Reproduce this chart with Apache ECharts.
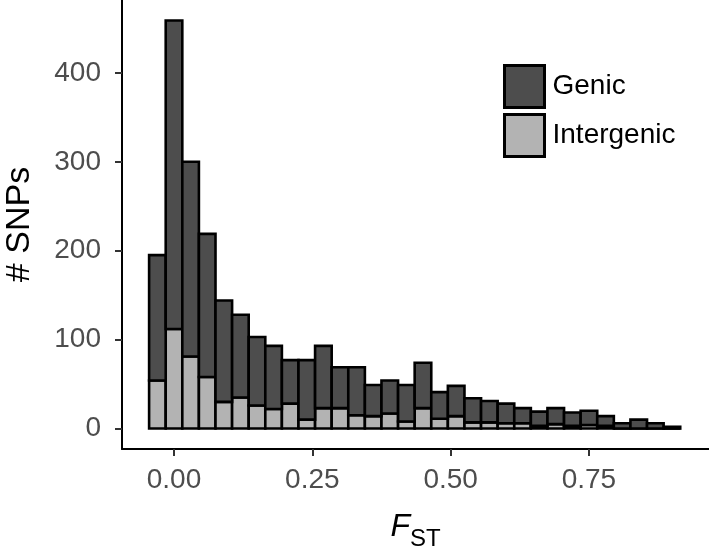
<!DOCTYPE html>
<html>
<head>
<meta charset="utf-8">
<script src="https://cdn.jsdelivr.net/npm/echarts@6/dist/echarts.min.js"></script>
<style>html,body{margin:0;padding:0;background:#fff}#c{width:709px;height:548px}</style>
</head>
<body>
<div id="c"></div>
<script>
// Histogram bin centres (F_ST), bin width 0.03
const binCenters = [-0.03, 0.00, 0.03, 0.06, 0.09, 0.12, 0.15, 0.18, 0.21, 0.24, 0.27, 0.30, 0.33, 0.36, 0.39, 0.42, 0.45, 0.48, 0.51, 0.54, 0.57, 0.60, 0.63, 0.66, 0.69, 0.72, 0.75, 0.78, 0.81, 0.84, 0.87, 0.90];
const binWidth = 0.03;
const genic = [141, 347, 219, 161, 114, 93, 77, 71, 49, 67, 70, 46, 54, 35, 37, 41, 51, 30, 34, 27, 24, 22, 17, 16, 18, 15, 16, 11, 6, 10, 6, 2];
const intergenic = [54, 112, 81, 58, 30, 35, 26, 22, 28, 10, 23, 23, 15, 14, 17, 8, 23, 11, 14, 7, 7, 6, 6, 3, 5, 3, 4, 3, 0, 0, 0, 0];
const xTicks = [0, 0.25, 0.5, 0.75];
const yTicks = [0, 100, 200, 300, 400];
const seriesNames = ['Genic', 'Intergenic'];
const colors = {Genic: '#4D4D4D', Intergenic: '#B3B3B3'};

const FONT = '"Liberation Sans", Arial, sans-serif';

const interData = binCenters.map((x, i) => [x, 0, intergenic[i]]);
const genicData = binCenters.map((x, i) => [x, intergenic[i], intergenic[i] + genic[i]]);

function renderBar(params, api) {
  const x = api.value(0), y0 = api.value(1), y1 = api.value(2);
  const p0 = api.coord([x - binWidth / 2, y1]);
  const p1 = api.coord([x + binWidth / 2, y0]);
  return {
    type: 'rect',
    shape: {x: p0[0], y: p0[1], width: p1[0] - p0[0], height: p1[1] - p0[1]},
    style: {fill: api.visual('color'), stroke: '#000', lineWidth: 2.6}
  };
}

const chart = echarts.init(document.getElementById('c'), null, {renderer: 'canvas'});
chart.setOption({
  animation: false,
  backgroundColor: '#fff',
  grid: {left: 122, right: 0, top: 0, bottom: 99, containLabel: false, outerBoundsMode: 'none'},
  legend: {
    orient: 'vertical', left: 503, top: 64, padding: 0, itemGap: 4,
    itemWidth: 40, itemHeight: 42,
    textStyle: {fontSize: 28, color: '#000', fontFamily: FONT, padding: [0, 0, 0, 3]},
    data: seriesNames.map(n => ({name: n, icon: 'rect', itemStyle: {color: colors[n], borderColor: '#000', borderWidth: 3}}))
  },
  xAxis: {
    type: 'value', min: -0.094, max: 0.967,
    splitLine: {show: false},
    axisLine: {onZero: false, lineStyle: {color: '#000', width: 2}},
    axisTick: {customValues: xTicks, length: 7, lineStyle: {color: '#333', width: 2}},
    axisLabel: {customValues: xTicks, formatter: v => v.toFixed(2), fontSize: 28, color: '#4D4D4D', fontFamily: FONT, margin: 17},
    name: '{f|F}{s|ST}', nameLocation: 'middle', nameGap: 60,
    nameTextStyle: {rich: {
      f: {fontSize: 32, fontStyle: 'italic', color: '#000', fontFamily: FONT, verticalAlign: 'bottom', lineHeight: 34},
      s: {fontSize: 24, color: '#000', fontFamily: FONT, verticalAlign: 'bottom', padding: [0, 0, -8, 0]}
    }}
  },
  yAxis: {
    type: 'value', min: -23, max: 482,
    splitLine: {show: false},
    axisLine: {onZero: false, lineStyle: {color: '#000', width: 2}},
    axisTick: {customValues: yTicks, length: 7, lineStyle: {color: '#333', width: 2}},
    axisLabel: {customValues: yTicks, fontSize: 28, color: '#4D4D4D', fontFamily: FONT, margin: 21},
    name: '# SNPs', nameLocation: 'middle', nameRotate: 90, nameGap: 85,
    nameTextStyle: {fontSize: 34, color: '#000', fontFamily: FONT}
  },
  series: [
    {name: 'Intergenic', type: 'custom', renderItem: renderBar, itemStyle: {color: colors.Intergenic}, encode: {x: 0, y: [1, 2]}, data: interData, clip: false},
    {name: 'Genic', type: 'custom', renderItem: renderBar, itemStyle: {color: colors.Genic}, encode: {x: 0, y: [1, 2]}, data: genicData, clip: false}
  ]
});
</script>
</body>
</html>
